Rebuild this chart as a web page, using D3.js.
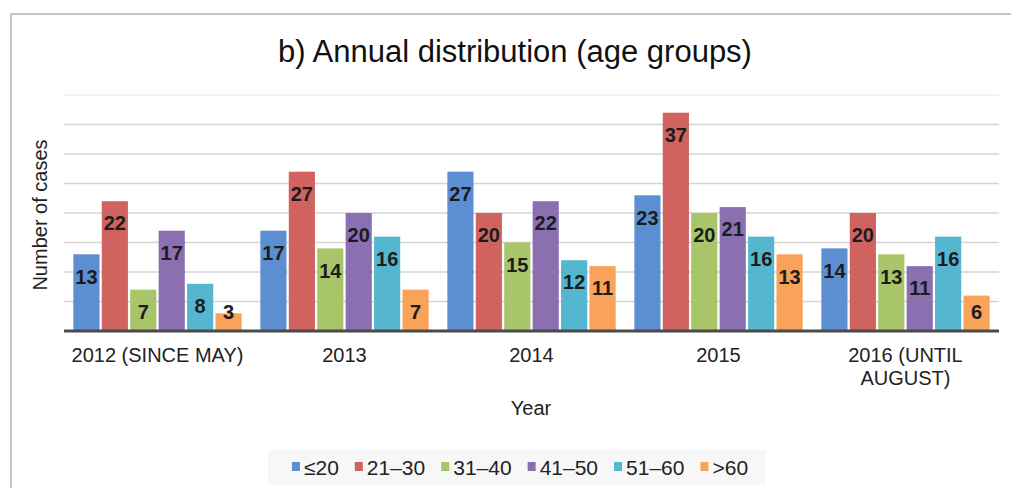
<!DOCTYPE html>
<html>
<head>
<meta charset="utf-8">
<script src="https://cdn.jsdelivr.net/npm/d3@7"></script>
<style>
  body { margin: 0; background: #fff; }
  svg { font-family: "Liberation Sans", Arial, sans-serif; }
</style>
</head>
<body>
<div id="chart"></div>
<script>
const years = ["2012 (SINCE MAY)", "2013", "2014", "2015", "2016 (UNTIL AUGUST)"];
const groups = ["≤20", "21–30", "31–40", "41–50", "51–60", ">60"];
const le20 = [13, 17, 27, 23, 14];
const a21_30 = [22, 27, 20, 37, 20];
const a31_40 = [7, 14, 15, 20, 13];
const a41_50 = [17, 20, 22, 21, 11];
const a51_60 = [8, 16, 12, 16, 16];
const gt60 = [3, 7, 11, 13, 6];
const yTicks = [0, 5, 10, 15, 20, 25, 30, 35, 40];

const seriesValues = [le20, a21_30, a31_40, a41_50, a51_60, gt60];
const colors = ["#5b8fd2", "#d0625f", "#a9c56a", "#8a6fb1", "#55b7cf", "#f8a25a"];

function drawBars(containerId) {
    const W = 1011, H = 488;
    const left = 64, right = 999, top = 95, bottom = 331;

    const svg = d3.select(`#${containerId}`)
        .append("svg")
        .attr("width", W)
        .attr("height", H);

    // outer frame (only top and left edges visible)
    svg.append("path")
        .attr("d", `M11,${H} L11,14 L${W},14`)
        .attr("fill", "none")
        .attr("stroke", "#c4c4c4")
        .attr("stroke-width", 2);

    svg.append("text")
        .attr("x", 515)
        .attr("y", 62)
        .attr("text-anchor", "middle")
        .attr("font-size", 31)
        .attr("fill", "#111")
        .text("b) Annual distribution (age groups)");

    const x0 = d3.scaleBand()
        .domain(years)
        .range([left, right])
        .paddingInner(0.1)
        .paddingOuter(0.05);

    const x1 = d3.scaleBand()
        .domain(groups)
        .range([0, x0.bandwidth()])
        .paddingInner(0.08);

    const y = d3.scaleLinear()
        .domain([0, 40])
        .range([bottom, top]);

    // gridlines
    svg.append("g")
        .selectAll("line")
        .data(yTicks.filter(d => d > 0))
        .join("line")
        .attr("x1", left)
        .attr("x2", right)
        .attr("y1", d => y(d))
        .attr("y2", d => y(d))
        .attr("stroke", d => d === 40 ? "#ececec" : "#d4d4d4")
        .attr("stroke-width", 1.5);

    const data = [];
    years.forEach((yr, i) => {
        groups.forEach((g, j) => {
            data.push({ year: yr, group: g, value: seriesValues[j][i], color: colors[j] });
        });
    });

    svg.append("g")
        .selectAll("rect")
        .data(data)
        .join("rect")
        .attr("x", d => x0(d.year) + x1(d.group))
        .attr("y", d => y(d.value))
        .attr("width", x1.bandwidth())
        .attr("height", d => y(0) - y(d.value))
        .attr("fill", d => d.color);

    svg.append("g")
        .selectAll("text")
        .data(data)
        .join("text")
        .attr("x", d => x0(d.year) + x1(d.group) + x1.bandwidth() / 2)
        .attr("y", d => Math.min(y(d.value) + 22, y(0) - 19))
        .attr("dy", "0.36em")
        .attr("text-anchor", "middle")
        .attr("font-size", 20)
        .attr("font-weight", "bold")
        .attr("fill", "#1c1c1c")
        .text(d => d.value);

    // baseline
    svg.append("line")
        .attr("x1", left)
        .attr("x2", right)
        .attr("y1", y(0))
        .attr("y2", y(0))
        .attr("stroke", "#4a4a4a")
        .attr("stroke-width", 3);

    // category labels (wrap the last one like the original)
    const labelG = svg.append("g")
        .selectAll("text")
        .data(years)
        .join("text")
        .attr("x", d => x0(d) + x0.bandwidth() / 2)
        .attr("y", 362)
        .attr("text-anchor", "middle")
        .attr("font-size", 20)
        .attr("fill", "#222");
    labelG.each(function(d) {
        const t = d3.select(this);
        const lines = d.startsWith("2016") ? ["2016 (UNTIL", "AUGUST)"] : [d];
        lines.forEach((ln, k) => {
            t.append("tspan")
                .attr("x", t.attr("x"))
                .attr("dy", k === 0 ? 0 : 23)
                .text(ln);
        });
    });

    svg.append("text")
        .attr("x", 531)
        .attr("y", 415)
        .attr("text-anchor", "middle")
        .attr("font-size", 20)
        .attr("fill", "#222")
        .text("Year");

    svg.append("text")
        .attr("transform", "translate(47,215) rotate(-90)")
        .attr("text-anchor", "middle")
        .attr("font-size", 20)
        .attr("fill", "#222")
        .text("Number of cases");

    // legend
    svg.append("rect")
        .attr("x", 268)
        .attr("y", 450)
        .attr("width", 497)
        .attr("height", 35)
        .attr("fill", "#f7f7f7");

    const leg = svg.append("g")
        .selectAll("g")
        .data(groups)
        .join("g");
    leg.append("rect")
        .attr("x", 0)
        .attr("y", -5)
        .attr("width", 8)
        .attr("height", 9)
        .attr("fill", (d, i) => colors[i]);
    leg.append("text")
        .attr("x", 12)
        .attr("dy", "0.36em")
        .attr("font-size", 21)
        .attr("fill", "#222")
        .text(d => d);

    // lay items out in a row, centred under the plot
    const gap = 16;
    const widths = [];
    leg.select("text").each(function() { widths.push(12 + this.getComputedTextLength()); });
    const total = d3.sum(widths) + gap * (widths.length - 1);
    let cx = 520 - total / 2;
    leg.attr("transform", (d, i) => {
        const t = `translate(${cx},467)`;
        cx += widths[i] + gap;
        return t;
    });
}

drawBars("chart");
</script>
</body>
</html>
